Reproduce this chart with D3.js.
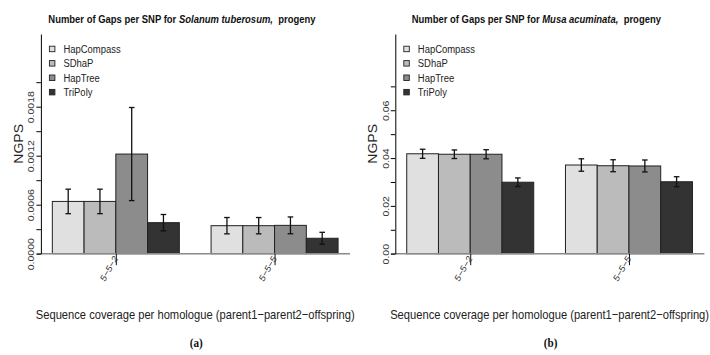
<!DOCTYPE html>
<html>
<head>
<meta charset="utf-8">
<script src="https://cdn.jsdelivr.net/npm/d3@7"></script>
<style>
  body { margin: 0; background: #fff; }
  svg { display: block; font-family: "Liberation Sans", Arial, Helvetica, sans-serif; }
</style>
</head>
<body>
<svg width="710" height="355"></svg>
<script>
const METHODS = ['HapCompass', 'SDhaP', 'HapTree', 'TriPoly'];
const COLORS = ['#e0e0e0', '#bbbbbb', '#8c8c8c', '#333333'];
const COVERAGES = ['5\u22125\u22122', '5\u22125\u22125'];

// Solanum tuberosum: mean NGPS and error half-width per coverage, per method
const TUBEROSUM_MEAN = [[0.00064, 0.00064, 0.00122, 0.00038], [0.000343, 0.000343, 0.000347, 0.000189]];
const TUBEROSUM_ERR = [[0.00015, 0.00015, 0.00057, 0.0001], [0.0001, 0.0001, 0.000103, 0.000073]];
const TUBEROSUM_TICKS = [0, 0.0003, 0.0006, 0.0009, 0.0012, 0.0015, 0.0018, 0.0021];
const TUBEROSUM_TICK_LABELS = ['0.0000', '', '0.0006', '', '0.0012', '', '0.0018', ''];

// Musa acuminata
const ACUMINATA_MEAN = [[0.0418, 0.0416, 0.0416, 0.0299], [0.0371, 0.0368, 0.0367, 0.0301]];
const ACUMINATA_ERR = [[0.0019, 0.0018, 0.0019, 0.0018], [0.0026, 0.0025, 0.0025, 0.0021]];
const ACUMINATA_TICKS = [0, 0.01, 0.02, 0.03, 0.04, 0.05, 0.06, 0.07];
const ACUMINATA_TICK_LABELS = ['0.00', '', '0.02', '', '0.04', '', '0.06', ''];

const SQUEEZE = 0.86; // the picture is narrower than it is tall, text too
const BASE_Y = 253.7;
const TOP_Y = 34;
const PLOT_W = 308.6;

const panels = [
  { x0: 40.9, species: 'Solanum tuberosum,', mean: TUBEROSUM_MEAN, err: TUBEROSUM_ERR,
    ticks: TUBEROSUM_TICKS, labels: TUBEROSUM_TICK_LABELS, yMax: 0.00269, tag: '(a)' },
  { x0: 395.3, species: 'Musa acuminata,', mean: ACUMINATA_MEAN, err: ACUMINATA_ERR,
    ticks: ACUMINATA_TICKS, labels: ACUMINATA_TICK_LABELS, yMax: 0.0919, tag: '(b)' },
];

const svg = d3.select('svg');
svg.append('rect').attr('width', 710).attr('height', 355).attr('fill', '#fff');

panels.forEach(p => {
  // bar units as in R barplot: group g, bar i spans [1 + 5g + i, 2 + 5g + i]
  const x = d3.scaleLinear().domain([0.64, 10.36]).range([p.x0, p.x0 + PLOT_W]);
  const y = d3.scaleLinear().domain([0, p.yMax]).range([BASE_Y, TOP_Y]);
  const g = svg.append('g');

  const bars = [];
  p.mean.forEach((row, gi) => row.forEach((v, i) => {
    bars.push({ u: 1 + gi * 5 + i, v, e: p.err[gi][i], i });
  }));

  g.selectAll('.bar')
    .data(bars)
    .enter()
    .append('rect')
    .attr('x', d => x(d.u))
    .attr('width', d => x(d.u + 1) - x(d.u))
    .attr('y', d => y(d.v))
    .attr('height', d => y(0) - y(d.v))
    .attr('fill', d => COLORS[d.i])
    .attr('stroke', '#222')
    .attr('stroke-width', 1);

  // gray baseline
  g.append('line')
    .attr('x1', p.x0 - 4.2).attr('x2', p.x0 + PLOT_W + 0.5)
    .attr('y1', y(0)).attr('y2', y(0))
    .attr('stroke', '#8a8a8a').attr('stroke-width', 1.5);

  // error bars
  const eb = g.selectAll('.err')
    .data(bars)
    .enter()
    .append('g')
    .attr('stroke', '#111')
    .attr('stroke-width', 1.3);
  eb.append('line')
    .attr('x1', d => x(d.u + 0.5)).attr('x2', d => x(d.u + 0.5))
    .attr('y1', d => y(d.v - d.e)).attr('y2', d => y(d.v + d.e));
  [-1, 1].forEach(s => {
    eb.append('line')
      .attr('x1', d => x(d.u + 0.5) - 2.8).attr('x2', d => x(d.u + 0.5) + 2.8)
      .attr('y1', d => y(d.v + s * d.e)).attr('y2', d => y(d.v + s * d.e));
  });

  // y axis
  const yAxis = g.append('g')
    .attr('transform', `translate(${p.x0},0)`)
    .call(d3.axisLeft(y).tickValues(p.ticks).tickSize(4.5).tickSizeOuter(0)
      .tickFormat((d, i) => p.labels[i]));
  yAxis.select('.domain').attr('stroke', '#000');
  yAxis.selectAll('.tick line').attr('stroke', '#000');
  yAxis.selectAll('.tick text')
    .attr('x', null).attr('dy', null)
    .attr('transform', `translate(-6.5,0) scale(${SQUEEZE},1) rotate(-90)`)
    .attr('text-anchor', 'middle')
    .attr('font-family', '"Liberation Sans", Arial, sans-serif')
    .attr('font-size', 10.5)
    .attr('fill', '#333');

  // x axis: one tick per coverage group
  const xAxis = g.append('g')
    .attr('transform', `translate(0,${BASE_Y})`)
    .call(d3.axisBottom(x).tickValues([3, 8]).tickSize(11.5)
      .tickFormat((d, i) => COVERAGES[i]));
  xAxis.select('.domain').remove();
  xAxis.selectAll('.tick line').attr('stroke', '#111');
  xAxis.selectAll('.tick text')
    .attr('y', null).attr('dy', null)
    .attr('transform', `translate(2,5) scale(${SQUEEZE},1) rotate(-56)`)
    .attr('text-anchor', 'end')
    .attr('font-family', '"Liberation Sans", Arial, sans-serif')
    .attr('font-size', 10)
    .attr('fill', '#333');

  // y title
  g.append('text')
    .attr('transform', `translate(${p.x0 - 18},${(BASE_Y + TOP_Y) / 2}) scale(${SQUEEZE},1) rotate(-90)`)
    .attr('text-anchor', 'middle')
    .attr('font-size', 14)
    .attr('fill', '#222')
    .text('NGPS');

  // x title
  g.append('text')
    .attr('transform', `translate(${p.x0 + PLOT_W / 2},319.3) scale(${SQUEEZE},1)`)
    .attr('text-anchor', 'middle')
    .attr('font-size', 13)
    .attr('fill', '#222')
    .text('Sequence coverage per homologue (parent1\u2212parent2\u2212offspring)');

  // main title
  const title = g.append('text')
    .attr('transform', `translate(${p.x0 + 141},22.7) scale(${SQUEEZE},1)`)
    .attr('text-anchor', 'middle')
    .attr('font-size', 11)
    .attr('font-weight', 'bold')
    .attr('fill', '#111');
  title.append('tspan').text('Number of Gaps per SNP for ');
  title.append('tspan').attr('font-style', 'italic').text(p.species);
  title.append('tspan').text('\u00a0 progeny');

  // legend
  const leg = g.selectAll('.leg')
    .data(METHODS)
    .enter()
    .append('g')
    .attr('transform', (d, i) => `translate(${p.x0 + 8.5},${49 + i * 14.4})`);
  leg.append('rect')
    .attr('x', 0).attr('y', -2.8).attr('width', 5.5).attr('height', 5.5)
    .attr('fill', (d, i) => COLORS[i])
    .attr('stroke', '#222').attr('stroke-width', 0.9);
  leg.append('text')
    .attr('transform', `translate(14,3.9) scale(${SQUEEZE},1)`)
    .attr('font-size', 11)
    .attr('fill', '#222')
    .text(d => d);

  // panel tag
  g.append('text')
    .attr('transform', `translate(${p.x0 + 155.4},346.5) scale(${SQUEEZE},1)`)
    .attr('text-anchor', 'middle')
    .attr('font-family', '"Liberation Serif", "Times New Roman", serif')
    .attr('font-weight', 'bold')
    .attr('font-size', 13)
    .attr('fill', '#111')
    .text(p.tag);
});
</script>
</body>
</html>
